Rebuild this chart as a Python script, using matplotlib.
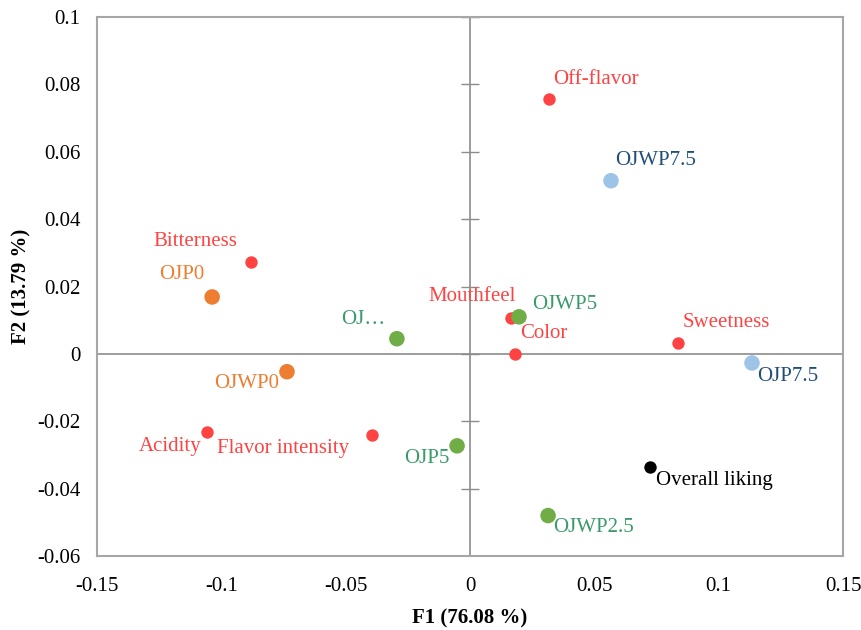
import matplotlib
matplotlib.use("Agg")
import matplotlib.pyplot as plt
import numpy as np

plt.rcParams['font.family'] = ['Liberation Serif', 'DejaVu Serif']

# Attributes (red)
attr_names = ["Off-flavor", "Bitterness", "Mouthfeel", "Color", "Sweetness",
              "Acidity", "Flavor intensity"]
attr_f1 = [0.0318, -0.0881, 0.0165, 0.0180, 0.0836, -0.1057, -0.0394]
attr_f2 = [0.0757, 0.0273, 0.0107, 0.0000, 0.0033, -0.0232, -0.0240]

# Samples
smp_names = ["OJWP7.5", "OJP7.5", "OJP0", "OJWP0", "OJ…", "OJWP5", "OJP5", "OJWP2.5"]
smp_f1 = [0.0567, 0.1134, -0.1037, -0.0736, -0.0294, 0.0197, -0.0052, 0.0314]
smp_f2 = [0.0514, -0.0027, 0.0169, -0.0053, 0.0045, 0.0110, -0.0273, -0.0480]
smp_group = ["blue", "blue", "orange", "orange", "green", "green", "green", "green"]

# Supplementary
sup_names = ["Overall liking"]
sup_f1 = [0.0724]
sup_f2 = [-0.0335]

xticks = [-0.15, -0.1, -0.05, 0, 0.05, 0.1, 0.15]
yticks = [-0.06, -0.04, -0.02, 0, 0.02, 0.04, 0.06, 0.08, 0.1]
xtick_labels = ["-0.15", "-0.1", "-0.05", "0", "0.05", "0.1", "0.15"]
ytick_labels = ["-0.06", "-0.04", "-0.02", "0", "0.02", "0.04", "0.06", "0.08", "0.1"]

point_colors = {"blue": "#9DC3E6", "orange": "#ED7D31", "green": "#70AD47"}
label_colors = {"blue": "#1F4E79", "orange": "#ED7D31", "green": "#3A9A6A"}
red = "#FF4343"

# label offsets in pixels (text centre relative to point)
attr_off = {"Off-flavor": (47, 19), "Bitterness": (-56, 20), "Mouthfeel": (-39, 21),
            "Color": (29, 20), "Sweetness": (48, 20), "Acidity": (-37, -14),
            "Flavor intensity": (-89, -14)}
smp_off = {"OJWP7.5": (45, 20), "OJP7.5": (36, -14), "OJP0": (-30, 22),
           "OJWP0": (-40, -12), "OJ…": (-34, 19), "OJWP5": (46, 12),
           "OJP5": (-30, -13), "OJWP2.5": (45, -12)}
sup_off = {"Overall liking": (64, -14)}

fig = plt.figure(figsize=(8.61, 6.30), dpi=100)
ax = fig.add_axes([97/861, 1-556/630, (843-97)/861, (556-17)/630])
ax.set_xlim(-0.15, 0.15)
ax.set_ylim(-0.06, 0.1)

for s in ax.spines.values():
    s.set_color("#A6A6A6")
    s.set_linewidth(1.5)

ax.axhline(0, color="#8C8C8C", lw=1.2, zorder=1)
ax.axvline(0, color="#8C8C8C", lw=1.2, zorder=1)
# tick marks on the central vertical axis
for yt in yticks:
    ax.plot([0], [yt], marker="_", ms=13, mew=1.0, color="#8C8C8C", zorder=1)

ax.set_xticks(xticks)
ax.set_xticklabels(xtick_labels)
ax.set_yticks(yticks)
ax.set_yticklabels(ytick_labels)
ax.tick_params(length=0, labelsize=15, pad=12)
ax.tick_params(axis="x", pad=15)

ax.scatter(attr_f1, attr_f2, s=80, color=red, zorder=3, linewidths=0)
ax.scatter(smp_f1, smp_f2, s=125, color=[point_colors[g] for g in smp_group],
           zorder=3, linewidths=0)
ax.scatter(sup_f1, sup_f2, s=80, color="black", zorder=3, linewidths=0)

fs = 15
for n, x, y in zip(attr_names, attr_f1, attr_f2):
    ax.annotate(n, (x, y), xytext=attr_off[n], textcoords="offset pixels",
                ha="center", va="center", color=red, fontsize=fs)
for n, x, y, g in zip(smp_names, smp_f1, smp_f2, smp_group):
    ax.annotate(n, (x, y), xytext=smp_off[n], textcoords="offset pixels",
                ha="center", va="center", color=label_colors[g], fontsize=fs)
for n, x, y in zip(sup_names, sup_f1, sup_f2):
    ax.annotate(n, (x, y), xytext=sup_off[n], textcoords="offset pixels",
                ha="center", va="center", color="black", fontsize=fs)

ax.set_xlabel("F1 (76.08 %)", fontsize=15, fontweight="bold", labelpad=9)
ax.set_ylabel("F2 (13.79 %)", fontsize=15, fontweight="bold", labelpad=4)

fig.savefig("out.png", dpi=100)
